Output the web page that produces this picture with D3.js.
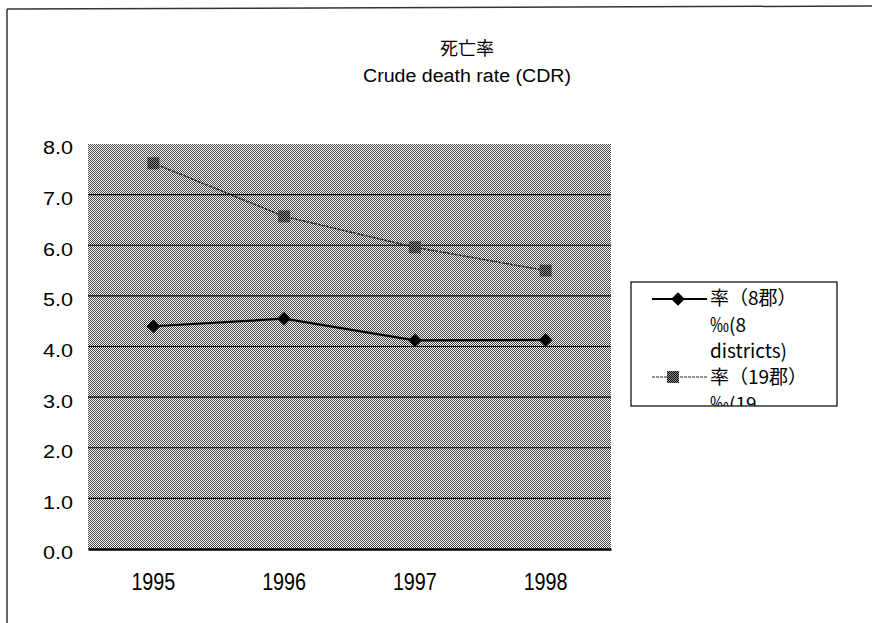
<!DOCTYPE html>
<html>
<head>
<meta charset="utf-8">
<script src="https://cdn.jsdelivr.net/npm/d3@7"></script>
<style>
  body { margin: 0; background: #fff; }
  text { font-family: "Noto Sans CJK JP", "DejaVu Sans", sans-serif; fill: #000; }
</style>
</head>
<body>
<div id="chart"></div>
<script>
var w = 872;
var h = 623;

// data
var years = ["1995", "1996", "1997", "1998"];
var rate8 = [4.40, 4.55, 4.12, 4.13];
var rate19 = [7.62, 6.57, 5.96, 5.50];
var yTicks = [0, 1, 2, 3, 4, 5, 6, 7, 8];
var legendLines8 = ["率（8郡）", "‰(8", "districts)"];
var legendLines19 = ["率（19郡）", "‰(19"];

var plot = {left: 88, right: 611, top: 144, bottom: 549};

var svg = d3.select("#chart")
            .append("svg")
            .attr("width", w)
            .attr("height", h);

// checker pattern for plot background
var defs = svg.append("defs");
var pat = defs.append("pattern")
    .attr("id", "dither")
    .attr("width", 2)
    .attr("height", 2)
    .attr("patternUnits", "userSpaceOnUse");
pat.append("rect").attr("width", 2).attr("height", 2).attr("fill", "#f6f6f6");
pat.append("rect").attr("width", 1).attr("height", 1).attr("fill", "#484848");
pat.append("rect").attr("x", 1).attr("y", 1).attr("width", 1).attr("height", 1).attr("fill", "#484848");

var mpat = defs.append("pattern")
    .attr("id", "markerfill")
    .attr("width", 2)
    .attr("height", 2)
    .attr("patternUnits", "userSpaceOnUse");
mpat.append("rect").attr("width", 2).attr("height", 2).attr("fill", "#888");
mpat.append("rect").attr("width", 1).attr("height", 1).attr("fill", "#111");
mpat.append("rect").attr("x", 1).attr("y", 1).attr("width", 1).attr("height", 1).attr("fill", "#111");

defs.append("clipPath").attr("id", "legclip")
    .append("rect").attr("x", 631).attr("y", 282).attr("width", 206).attr("height", 124);

// outer frame (only top and left visible)
svg.append("line").attr("x1", 7).attr("y1", 9).attr("x2", 872).attr("y2", 6)
    .attr("stroke", "#333").attr("stroke-width", 1.5);
svg.append("line").attr("x1", 7).attr("y1", 9).attr("x2", 7).attr("y2", 623)
    .attr("stroke", "#333").attr("stroke-width", 1.5);

// titles
svg.append("text").attr("x", 467).attr("y", 55)
    .attr("text-anchor", "middle").style("font-size", "18px")
    .text("死亡率");
svg.append("text").attr("x", 467).attr("y", 82)
    .attr("text-anchor", "middle").style("font-size", "18px")
    .style("font-family", "'Liberation Sans', sans-serif")
    .attr("textLength", 208)
    .attr("lengthAdjust", "spacingAndGlyphs")
    .text("Crude death rate (CDR)");

// scales
var xScale = d3.scaleBand()
    .domain(years)
    .range([plot.left, plot.right]);
var yScale = d3.scaleLinear()
    .domain([0, 8])
    .range([plot.bottom, plot.top]);

// plot background
svg.append("rect")
    .attr("x", plot.left).attr("y", plot.top)
    .attr("width", plot.right - plot.left)
    .attr("height", plot.bottom - plot.top)
    .attr("fill", "url(#dither)");

// gridlines
svg.selectAll(".grid")
    .data(yTicks.filter(function(d) { return d > 0 && d < 8; }))
    .enter()
    .append("line")
    .attr("class", "grid")
    .attr("x1", plot.left).attr("x2", plot.right)
    .attr("y1", function(d) { return yScale(d); })
    .attr("y2", function(d) { return yScale(d); })
    .attr("stroke", "#000").attr("stroke-width", 1.2);

// axes
var yAxis = d3.axisLeft(yScale)
    .tickValues(yTicks)
    .tickFormat(d3.format(".1f"))
    .tickSize(0)
    .tickPadding(15);
var gy = svg.append("g")
    .attr("transform", "translate(" + plot.left + ",0)")
    .call(yAxis);
gy.select(".domain").remove();
gy.selectAll("text")
    .attr("dy", "0.55em")
    .attr("textLength", 30)
    .attr("lengthAdjust", "spacingAndGlyphs")
    .style("font-size", "18px")
    .style("font-family", "'Liberation Sans', sans-serif");

var xAxis = d3.axisBottom(xScale).tickSize(0).tickPadding(24);
var gx = svg.append("g")
    .attr("transform", "translate(0," + plot.bottom + ")")
    .call(xAxis);
gx.select(".domain").attr("stroke", "#000").attr("stroke-width", 2.5);
gx.selectAll("text")
    .attr("y", 41).attr("dy", 0)
    .attr("textLength", 44)
    .attr("lengthAdjust", "spacingAndGlyphs")
    .style("font-size", "23px")
    .style("font-family", "'Liberation Sans', sans-serif");

var cx = function(d, i) { return xScale(years[i]) + xScale.bandwidth() / 2; };

var line = d3.line()
    .x(function(d, i) { return cx(d, i); })
    .y(function(d) { return yScale(d); });

// 19 districts series
svg.append("path")
    .datum(rate19)
    .attr("d", line)
    .attr("fill", "none")
    .attr("stroke", "#222")
    .attr("stroke-width", 1.4)
    .attr("stroke-dasharray", "3,1");
svg.selectAll(".sq")
    .data(rate19)
    .enter()
    .append("rect")
    .attr("class", "sq")
    .attr("x", function(d, i) { return cx(d, i) - 6; })
    .attr("y", function(d) { return yScale(d) - 6; })
    .attr("width", 12).attr("height", 12)
    .attr("fill", "url(#markerfill)");

// 8 districts series
svg.append("path")
    .datum(rate8)
    .attr("d", line)
    .attr("fill", "none")
    .attr("stroke", "#000")
    .attr("stroke-width", 2.2);
svg.selectAll(".dia")
    .data(rate8)
    .enter()
    .append("path")
    .attr("class", "dia")
    .attr("transform", function(d, i) { return "translate(" + cx(d, i) + "," + yScale(d) + ")"; })
    .attr("d", d3.symbol().type(d3.symbolDiamond2).size(120))
    .attr("fill", "#000");

// legend
var leg = svg.append("g");
leg.append("rect")
    .attr("x", 631).attr("y", 282).attr("width", 206).attr("height", 124)
    .attr("fill", "#fff").attr("stroke", "#000").attr("stroke-width", 1.2);
var legInner = leg.append("g").attr("clip-path", "url(#legclip)");

legInner.append("line").attr("x1", 652).attr("x2", 707).attr("y1", 299).attr("y2", 299)
    .attr("stroke", "#000").attr("stroke-width", 2);
legInner.append("path")
    .attr("transform", "translate(678,299)")
    .attr("d", d3.symbol().type(d3.symbolDiamond2).size(120))
    .attr("fill", "#000");
legInner.selectAll(".l8")
    .data(legendLines8)
    .enter()
    .append("text")
    .attr("class", "l8")
    .attr("x", 710)
    .attr("y", function(d, i) { return 305 + i * 26.5; })
    .style("font-size", "19px")
    .text(function(d) { return d; });

legInner.append("line").attr("x1", 652).attr("x2", 707).attr("y1", 377).attr("y2", 377)
    .attr("stroke", "#222").attr("stroke-width", 1.2).attr("stroke-dasharray", "3,1");
legInner.append("rect")
    .attr("x", 667).attr("y", 371).attr("width", 12).attr("height", 12)
    .attr("fill", "url(#markerfill)");
legInner.selectAll(".l19")
    .data(legendLines19)
    .enter()
    .append("text")
    .attr("class", "l19")
    .attr("x", 710)
    .attr("y", function(d, i) { return 384 + i * 26.5; })
    .style("font-size", "19px")
    .text(function(d) { return d; });
</script>
</body>
</html>
